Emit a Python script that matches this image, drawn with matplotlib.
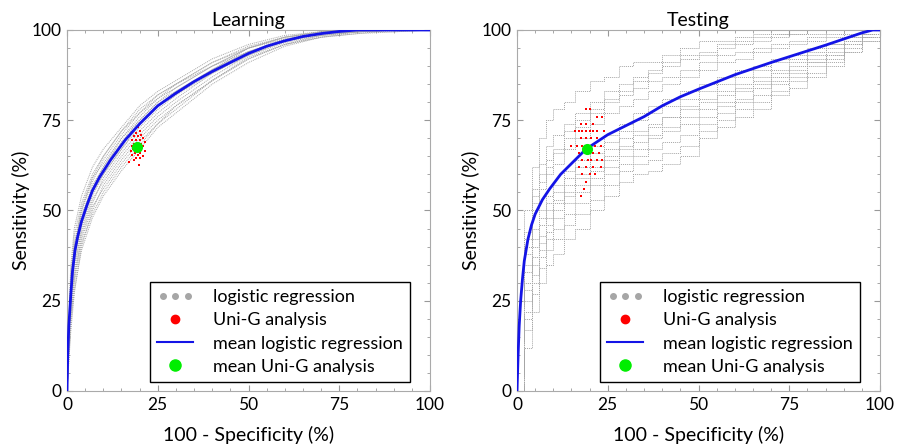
import numpy as np
import matplotlib
matplotlib.use("Agg")
import matplotlib.pyplot as plt
from matplotlib.lines import Line2D
from matplotlib.legend_handler import HandlerLine2D
from matplotlib.ticker import MultipleLocator

plt.rcParams['font.family'] = ['Lato', 'DejaVu Sans']

# ---- learning set ----
learn_fpr = [0, 1, 2, 4, 7, 10, 15, 20, 25, 30, 40, 50, 60, 70, 80, 90, 100]
learn_curves = [
    [0, 34, 45, 54, 62, 67, 73, 79, 83, 86, 92, 96, 98.5, 99.5, 100, 100, 100],
    [0, 30, 41, 50, 58, 64, 71, 77, 81, 84, 90, 95, 98, 99.5, 100, 100, 100],
    [0, 29, 39, 48, 57, 62, 69, 75, 80, 83, 89, 94, 97.5, 99, 100, 100, 100],
    [0, 27, 37, 46, 55, 60, 67, 73, 78, 82, 88, 93.5, 97, 99, 99.5, 100, 100],
    [0, 25, 35, 44, 53, 58, 65, 71, 76, 80, 87, 93, 97, 98.5, 99.5, 100, 100],
    [0, 22, 32, 42, 51, 56, 63, 69, 74, 79, 86, 92, 96, 98.5, 99.5, 100, 100],
    [0, 18, 28, 39, 48, 54, 61, 67, 73, 77, 85, 91, 95.5, 98, 99, 100, 100],
    [0, 31, 40, 49, 56, 61, 68, 74, 79, 83, 89, 95, 98, 99, 100, 100, 100],
    [0, 26, 36, 47, 56, 62, 70, 76, 81, 85, 90, 94, 97, 99, 99.5, 100, 100],
    [0, 20, 31, 43, 52, 59, 66, 72, 77, 81, 88, 93, 96.5, 98.5, 99.5, 99.5, 100],
    [0, 24, 38, 50, 59, 65, 72, 78, 82, 85, 91, 95.5, 98, 99.5, 100, 100, 100],
    [0, 16, 27, 40, 50, 57, 64, 70, 75, 79, 86, 92.5, 96, 98, 99.5, 100, 100],
    [0, 32, 43, 52, 60, 65, 72, 77, 82, 85, 91, 95, 97.5, 99, 100, 100, 100],
    [0, 23, 33, 45, 54, 60, 67, 74, 79, 82, 89, 94, 97, 99, 99.5, 100, 100],
    [0, 19, 30, 41, 49, 55, 62, 68, 74, 78, 86, 92, 96, 98, 99, 99.5, 100],
    [0, 28, 40, 51, 59, 63, 70, 75, 80, 84, 90, 95, 98, 99.5, 100, 100, 100],
]
learn_mean_x = [0, 0.2, 0.5, 1, 1.5, 2.2, 3, 4, 5.5, 7, 9, 12, 16, 20, 25, 30, 35, 40, 45,
                50, 55, 60, 65, 70, 75, 80, 100]
learn_mean_y = [0, 10, 18, 26, 33, 39, 43, 47, 51.5, 55.5, 59.3, 64, 69.5, 74, 79, 82.5, 85.7,
                88.5, 91, 93.5, 95.5, 97, 98.2, 99, 99.6, 100, 100]
learn_unig_x = [19.5, 20.0, 19.0, 20.5, 18.5, 19.5, 21.0, 18.0, 19.0, 20.0, 21.5, 18.5, 20.5, 17.8, 19.2,
                21.0, 18.3, 20.5, 21.5, 17.5, 18.8, 20.2, 19.5, 18.0, 21.0, 19.0, 20.0, 18.5, 17.2, 19.8]
learn_unig_y = [73, 72, 71.5, 71, 70.5, 70.5, 70, 69.5, 69.5, 69.5, 69, 68.5, 68.5, 68, 68,
                68, 67, 67, 66.5, 66.5, 66, 66, 65.5, 65.5, 65, 64.5, 64.5, 64, 63.5, 62.5]
learn_unig_mean = (19.4, 67.5)

# ---- testing set ----
test_fpr = [0, 2, 4, 6, 8, 10, 13, 16, 20, 24, 28, 32, 36, 40, 45, 50, 55, 60, 65, 70, 75, 80, 85, 90, 95, 100]
test_curves = [
    [0, 50, 62, 70, 75, 78, 80, 83, 86, 87, 90, 91, 91, 93, 95, 97, 97, 98, 99, 99, 100, 100, 100, 100, 100, 100],
    [0, 44, 56, 63, 68, 71, 74, 77, 80, 83, 85, 87, 88, 90, 92, 93, 95, 96, 97, 98, 99, 99, 100, 100, 100, 100],
    [0, 40, 50, 56, 60, 63, 67, 70, 74, 77, 79, 81, 83, 85, 87, 89, 91, 92, 94, 95, 96, 97, 98, 99, 100, 100],
    [0, 35, 45, 50, 54, 57, 61, 64, 68, 71, 74, 77, 79, 81, 83, 85, 87, 89, 90, 92, 93, 95, 96, 98, 100, 100],
    [0, 30, 40, 46, 50, 53, 57, 60, 64, 67, 70, 72, 74, 76, 79, 81, 83, 85, 87, 89, 91, 93, 95, 97, 99, 100],
    [0, 25, 35, 41, 46, 50, 54, 57, 61, 64, 67, 69, 71, 73, 76, 78, 80, 83, 85, 87, 89, 91, 93, 96, 98, 100],
    [0, 20, 30, 37, 42, 45, 49, 52, 57, 60, 63, 65, 67, 69, 71, 74, 77, 80, 82, 85, 87, 90, 92, 95, 98, 100],
    [0, 12, 22, 30, 35, 38, 42, 45, 50, 54, 58, 60, 61, 63, 65, 70, 73, 76, 78, 82, 84, 87, 90, 94, 97, 100],
    [0, 38, 52, 60, 64, 67, 70, 73, 77, 80, 82, 84, 86, 87, 89, 91, 93, 94, 95, 96, 97, 98, 99, 100, 100, 100],
    [0, 28, 37, 43, 48, 52, 55, 59, 62, 65, 68, 71, 73, 76, 78, 80, 82, 84, 86, 88, 90, 92, 94, 97, 99, 100],
    [0, 42, 54, 58, 62, 66, 72, 75, 78, 81, 83, 86, 89, 91, 93, 94, 96, 97, 98, 99, 99, 100, 100, 100, 100, 100],
    [0, 33, 42, 48, 52, 55, 59, 62, 66, 69, 72, 75, 77, 79, 81, 83, 85, 87, 89, 91, 92, 94, 96, 98, 99, 100],
    [0, 22, 32, 39, 44, 48, 52, 55, 59, 62, 65, 67, 70, 72, 74, 76, 79, 81, 84, 86, 88, 91, 93, 96, 98, 100],
    [0, 17, 27, 34, 39, 42, 46, 49, 53, 57, 61, 63, 64, 66, 68, 72, 75, 78, 80, 83, 86, 88, 91, 94, 97, 100],
]
test_mean_x = [0, 0.3, 0.6, 1, 1.5, 2, 3, 4, 5, 7, 9, 12, 15, 19, 22, 25, 30, 35, 40, 45, 50, 55,
               60, 65, 70, 75, 80, 85, 90, 95, 98, 100]
test_mean_y = [0, 10, 18, 25, 31, 36, 42, 46, 49, 53, 56, 60, 63, 67, 69, 71, 73.5, 76, 79, 81.5,
               83.6, 85.6, 87.6, 89.3, 91, 92.6, 94.2, 95.8, 97.5, 99.2, 100, 100]
test_unig_x = [19, 20, 22, 23.5, 17.5, 19, 21, 16, 17, 18, 19, 20, 21, 22, 24, 17.5, 19, 20.5, 22,
               15, 16.5, 18, 21.5, 23, 17, 19, 21, 22.5, 18, 19.5, 20.5, 22, 23.5, 17, 19, 21, 23,
               18, 20, 21.5, 19, 18.5, 17.5]
test_unig_y = [78, 78, 76, 76, 74, 74, 74, 72, 72, 72, 72, 72, 72, 72, 72, 70, 70, 70, 70,
               68, 68, 68, 68, 68, 66, 66, 66, 66, 64, 64, 64, 64, 64, 62, 62, 62, 62,
               60, 60, 60, 58, 56, 54]
test_unig_mean = (19.3, 67)

GREY = '#a6a6a6'
BLUE = '#1414e6'

fig = plt.figure(figsize=(9.08, 4.47), dpi=100)
ax1 = fig.add_axes([0.0738, 0.1253, 0.3998, 0.8076])
ax2 = fig.add_axes([0.5694, 0.1253, 0.3998, 0.8076])


def draw(ax, fpr, curves, mx, my, ux, uy, um, title, steps):
    for c in curves:
        ax.plot(fpr, c, color=GREY, lw=0.7, ls=(0, (1, 1)),
                drawstyle='steps-post' if steps else 'default', zorder=1)
    ax.scatter(ux, uy, s=3, marker='s', color='red', linewidths=0, zorder=3)
    ax.plot(mx, my, color=BLUE, lw=2, zorder=4)
    ax.plot([um[0]], [um[1]], 'o', color='#00ee00', ms=8, mec='none', zorder=5)

    ax.set_xlim(0, 100)
    ax.set_ylim(0, 100)
    ax.xaxis.set_major_locator(MultipleLocator(25))
    ax.yaxis.set_major_locator(MultipleLocator(25))
    ax.xaxis.set_minor_locator(MultipleLocator(5))
    ax.yaxis.set_minor_locator(MultipleLocator(5))
    ax.tick_params(which='both', direction='in', top=True, right=True,
                   color='#999999', labelsize=12.5, pad=4)
    ax.tick_params(which='major', length=4)
    ax.tick_params(which='minor', length=2)
    for s in ax.spines.values():
        s.set_color('#aaaaaa')
    ax.set_title(title, fontsize=14, pad=3)
    ax.set_xlabel('100 - Specificity (%)', fontsize=14, labelpad=10)
    ax.set_ylabel('Sensitivity (%)', fontsize=14, labelpad=1)

    h1 = Line2D([], [], ls='none', marker='o', ms=4, color=GREY)
    h2 = Line2D([], [], ls='none', marker='o', ms=6, color='red')
    h3 = Line2D([], [], color=BLUE, lw=1.5)
    h4 = Line2D([], [], ls='none', marker='o', ms=8, color='#00ee00')
    leg = ax.legend([h1, h2, h3, h4],
                    ['logistic regression', 'Uni-G analysis',
                     'mean logistic regression', 'mean Uni-G analysis'],
                    loc='lower right', bbox_to_anchor=(0.945, 0.025),
                    borderaxespad=0,
                    fontsize=13, fancybox=False, framealpha=1,
                    edgecolor='black', handlelength=2.0, labelspacing=0.4,
                    borderpad=0.4, handletextpad=1.1,
                    handler_map={h1: HandlerLine2D(numpoints=3)})
    leg.get_frame().set_linewidth(1.0)


draw(ax1, learn_fpr, learn_curves, learn_mean_x, learn_mean_y,
     learn_unig_x, learn_unig_y, learn_unig_mean, 'Learning', False)
draw(ax2, test_fpr, test_curves, test_mean_x, test_mean_y,
     test_unig_x, test_unig_y, test_unig_mean, 'Testing', True)

fig.savefig('out.png', dpi=100)
